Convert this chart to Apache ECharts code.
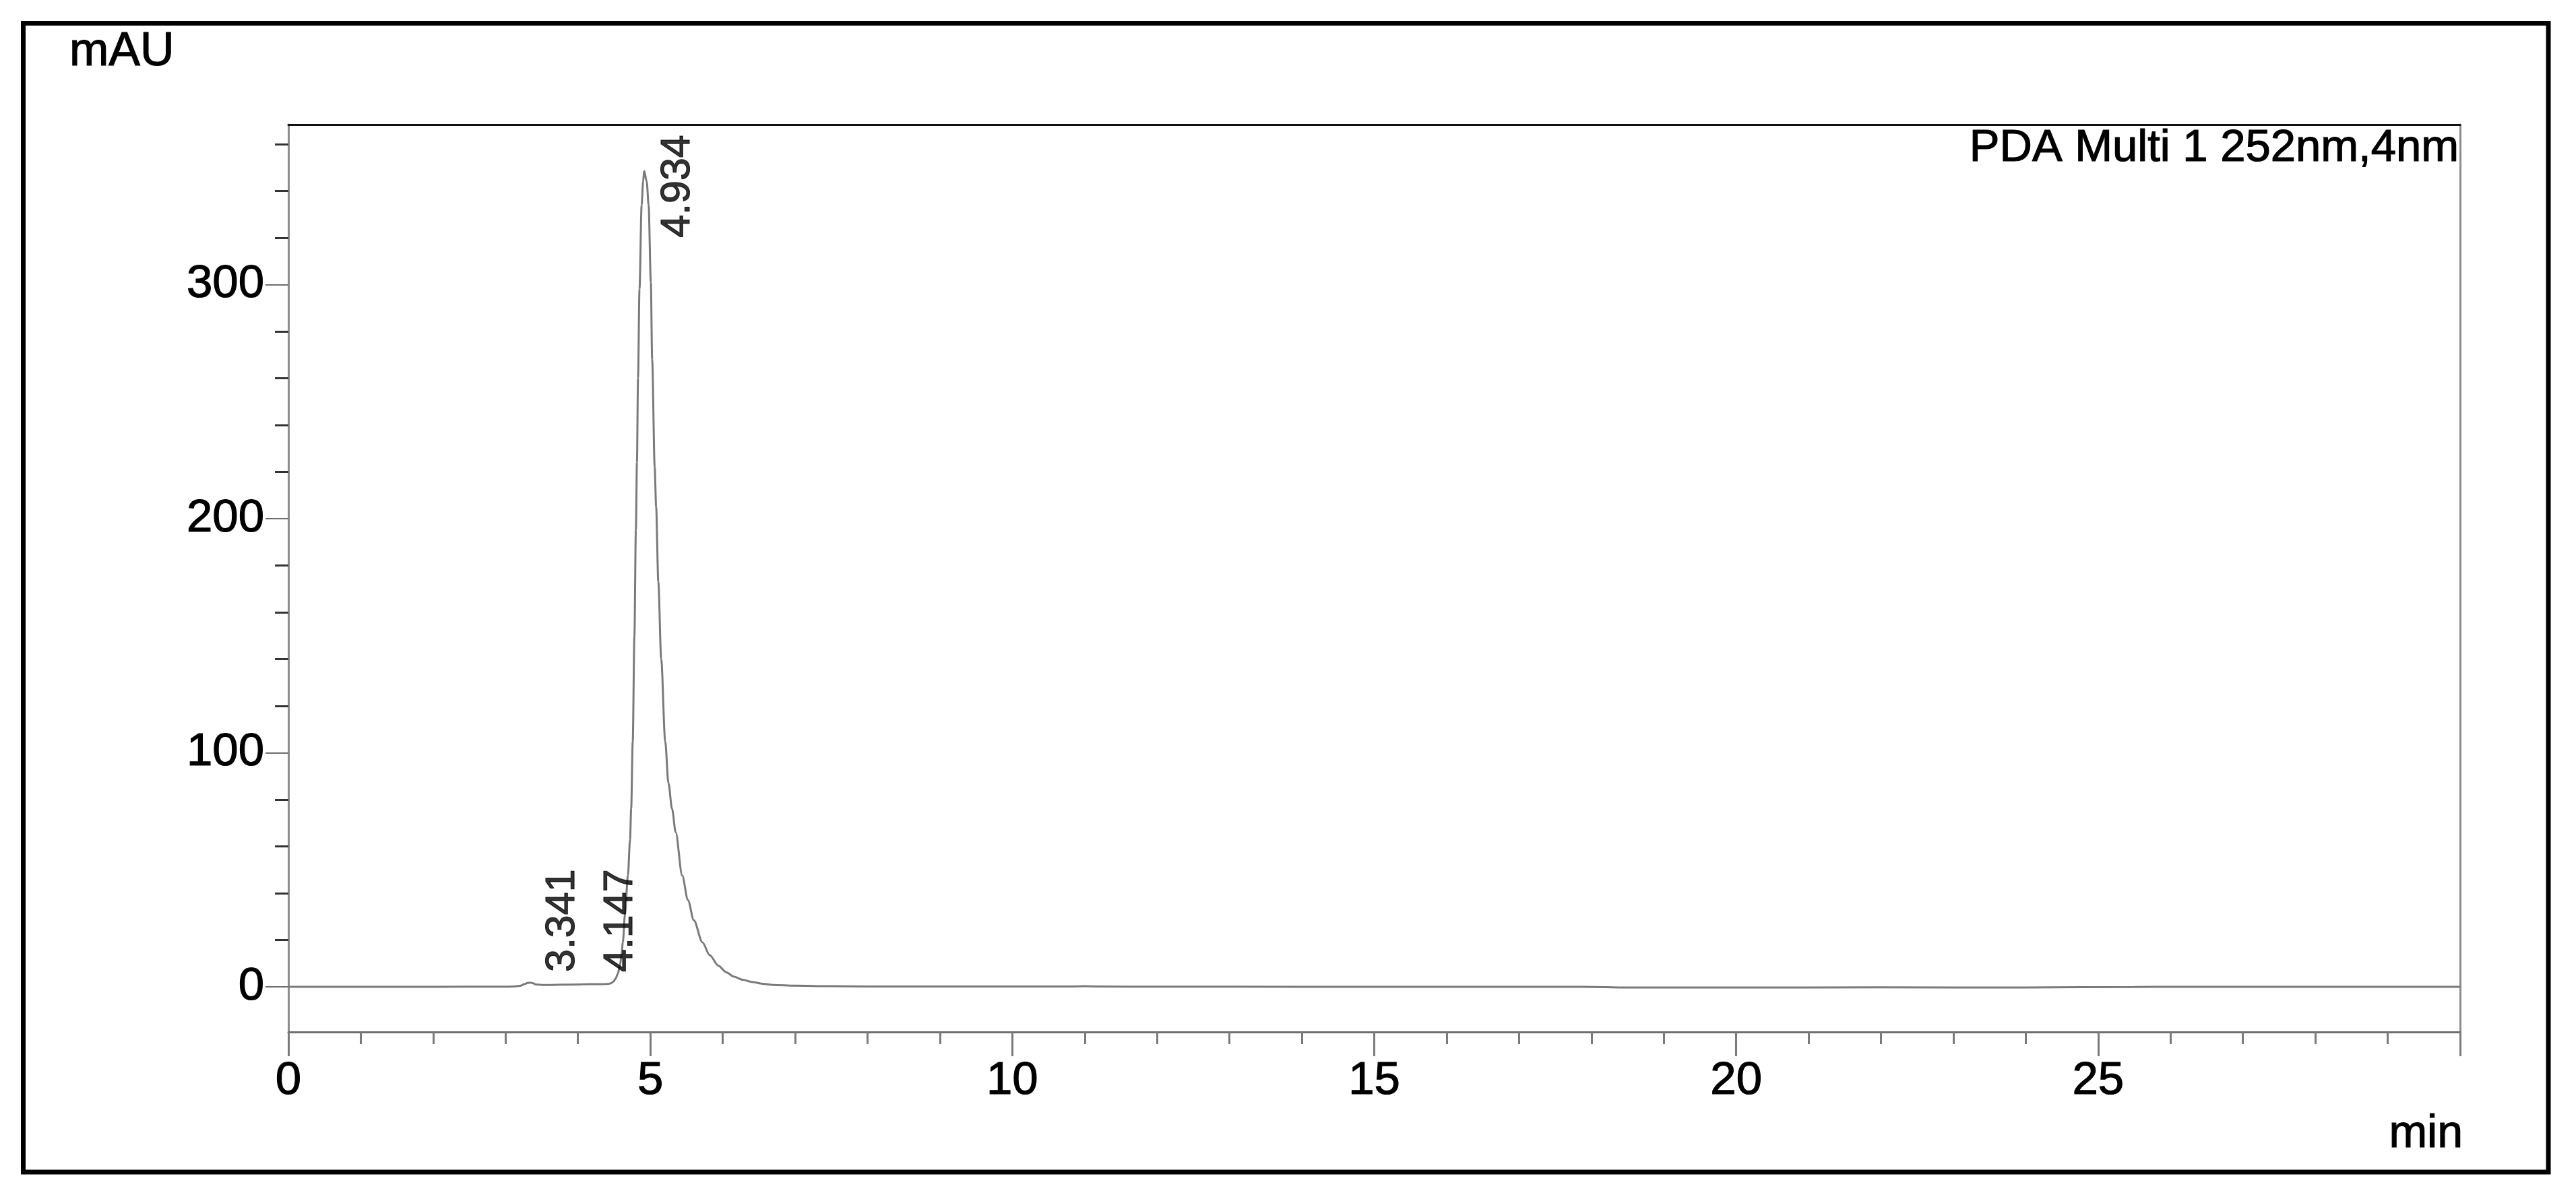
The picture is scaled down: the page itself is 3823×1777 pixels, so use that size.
<!DOCTYPE html>
<html>
<head>
<meta charset="utf-8">
<script src="https://cdn.jsdelivr.net/npm/echarts@6/dist/echarts.min.js"></script>
<style>
html,body{margin:0;padding:0;background:#fff;}
#chart{width:3823px;height:1777px;}
</style>
</head>
<body>
<div id="chart"></div>
<script>
// ---- data ----
const times = [0, 1, 2, 3, 3.1, 3.2, 3.26, 3.30, 3.34, 3.38, 3.42, 3.5, 3.6, 3.8, 4.0, 4.147, 4.3, 4.4, 4.45,
  4.49, 4.52, 4.55, 4.58, 4.60, 4.62, 4.65, 4.69, 4.72, 4.735, 4.757, 4.78, 4.80, 4.815, 4.83, 4.85, 4.88, 4.90, 4.915,
  4.95, 4.976, 5.007, 5.025, 5.06, 5.08, 5.11, 5.15, 5.205, 5.25, 5.30, 5.35, 5.44, 5.52, 5.60, 5.72, 5.82, 5.94,
  6.05, 6.15, 6.28, 6.40, 6.55, 6.70, 7.0, 7.5, 8.0, 9, 10, 10.8, 11.0, 11.2, 12, 14, 16, 17.9, 18.5, 20, 22, 24,
  25.5, 26, 28, 30];
const absorbance = [0, 0, 0, 0.05, 0.1, 0.4, 1.1, 1.6, 1.8, 1.5, 1.0, 0.8, 0.8, 0.9, 1.0, 1.1, 1.1, 1.2, 1.4,
  2.2, 3.5, 5.5, 9, 13, 19, 31, 47.5, 63, 76, 105, 150, 195, 224, 260, 298, 334, 344, 348.5,
  344, 334, 301, 268, 222, 205, 173, 140, 105, 87, 76, 66, 47.5, 37, 28.5, 19, 13.5, 9,
  6.2, 4.4, 3.0, 2.1, 1.3, 0.8, 0.45, 0.25, 0.15, 0.1, 0.1, 0.1, 0.3, 0.1, 0.05, 0, 0, 0, -0.3, -0.3, -0.25, -0.3,
  -0.1, 0, 0, 0];
const peakTimes = [3.341, 4.147, 4.934];
const peakLabelLevels = [6.3, 6.3, 320];
const xTickLabels = [0, 5, 10, 15, 20, 25];
const yTickLabels = [0, 100, 200, 300];
const yMinorTicks = [20, 40, 60, 80, 120, 140, 160, 180, 220, 240, 260, 280, 320, 340, 360];
const xRange = [0, 30];
const yRange = [-19.3, 368.3];
const yUnit = 'mAU';
const xUnit = 'min';
const channelName = 'PDA Multi 1 252nm,4nm';

// ---- chart ----
const FONT = '"Liberation Sans", Arial, sans-serif';
const chart = echarts.init(document.getElementById('chart'), null, {renderer: 'canvas'});
const signalData = times.map((t, i) => [t, absorbance[i]]);
const labelData = peakTimes.map((t, i) => [t, peakLabelLevels[i]]);
const textThick = {textBorderColor: '#000', textBorderWidth: 1.2};

const option = {
  animation: false,
  backgroundColor: '#fff',
  grid: {left: 428, right: 172, top: 185, bottom: 245, containLabel: false},
  xAxis: [
    {
      type: 'value', position: 'bottom', min: xRange[0], max: xRange[1], interval: 5,
      axisLine: {show: true, onZero: false, lineStyle: {color: '#6e6e6e', width: 3}},
      axisTick: {show: true, length: 36, lineStyle: {color: '#7a7a7a', width: 3}},
      minorTick: {show: true, splitNumber: 5, length: 18, lineStyle: {color: '#7a7a7a', width: 3}},
      axisLabel: Object.assign({show: true, customValues: xTickLabels, fontSize: 69, fontFamily: FONT, color: '#000', margin: 38}, textThick),
      splitLine: {show: false}, minorSplitLine: {show: false}
    },
    {
      type: 'value', position: 'top', min: xRange[0], max: xRange[1],
      axisLine: {show: true, onZero: false, lineStyle: {color: '#111', width: 3}},
      axisTick: {show: false}, axisLabel: {show: false}, splitLine: {show: false}
    }
  ],
  yAxis: [
    {
      type: 'value', position: 'left', min: yRange[0], max: yRange[1],
      axisLine: {show: true, onZero: false, lineStyle: {color: '#8c8c8c', width: 3}},
      axisTick: {show: true, customValues: yTickLabels, length: 34, lineStyle: {color: '#6e6e6e', width: 2}},
      axisLabel: Object.assign({show: true, customValues: yTickLabels, fontSize: 69, fontFamily: FONT, color: '#000', margin: 36}, textThick),
      splitLine: {show: false}
    },
    {
      type: 'value', position: 'left', min: yRange[0], max: yRange[1],
      axisLine: {show: false, onZero: false},
      axisTick: {show: true, customValues: yMinorTicks, length: 20, lineStyle: {color: '#333', width: 3}},
      axisLabel: {show: false}, splitLine: {show: false}
    },
    {
      type: 'value', position: 'right', min: yRange[0], max: yRange[1],
      axisLine: {show: true, onZero: false, lineStyle: {color: '#8c8c8c', width: 3}},
      axisTick: {show: false}, axisLabel: {show: false}, splitLine: {show: false}
    }
  ],
  series: [
    {
      type: 'line', xAxisIndex: 0, yAxisIndex: 0, data: signalData,
      showSymbol: false, smooth: 0.3, smoothMonotone: 'x',
      lineStyle: {color: '#7a7a7a', width: 3}, z: 3
    },
    {
      type: 'scatter', xAxisIndex: 0, yAxisIndex: 0, data: labelData,
      symbolSize: 0, silent: true, z: 4,
      label: Object.assign({
        show: true, position: 'inside', rotate: 90, align: 'left', verticalAlign: 'middle',
        offset: [0, 48],
        formatter: p => p.value[0].toFixed(3),
        fontSize: 61, fontFamily: FONT, color: '#000'
      }, textThick)
    }
  ],
  graphic: [
    {type: 'rect', shape: {x: 34.5, y: 34.5, width: 3747.5, height: 1705.5},
     style: {fill: 'none', stroke: '#000', lineWidth: 7}, silent: true},
    {type: 'text', x: 103, y: 78, style: {text: yUnit, font: '70px ' + FONT, fill: '#000', stroke: '#000', lineWidth: 1.2, textAlign: 'left', textVerticalAlign: 'middle'}},
    {type: 'text', x: 3649, y: 221, style: {text: channelName, font: '67px ' + FONT, fill: '#000', stroke: '#000', lineWidth: 1.2, textAlign: 'right', textVerticalAlign: 'middle'}},
    {type: 'text', x: 3655, y: 1684, style: {text: xUnit, font: '68px ' + FONT, fill: '#000', stroke: '#000', lineWidth: 1.2, textAlign: 'right', textVerticalAlign: 'middle'}}
  ]
};
chart.setOption(option);
</script>
</body>
</html>
